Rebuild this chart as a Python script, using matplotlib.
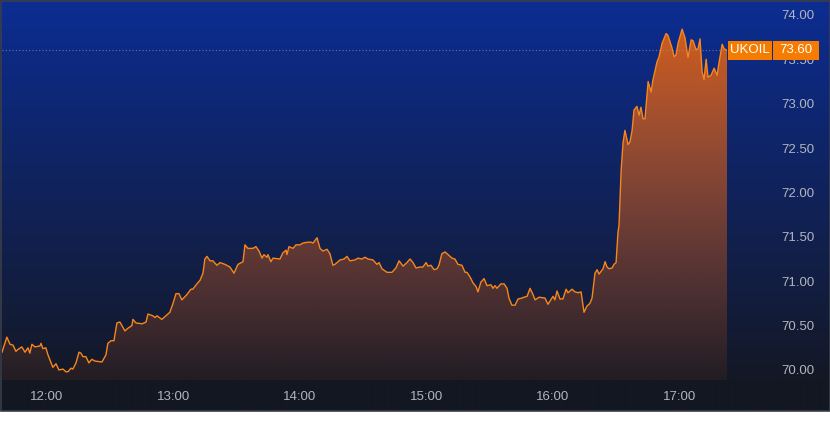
import numpy as np
import matplotlib
matplotlib.use("Agg")
import matplotlib.pyplot as plt
import matplotlib.transforms as mtransforms
from matplotlib.patches import Rectangle

plt.rcParams["font.family"] = ["Liberation Sans", "DejaVu Sans"]

SYMBOL = "UKOIL"

# minutes after 12:00 and price
times = [
    -21.3, -19.0, -17.5, -16.1, -14.7, -13.8, -11.9, -10.4, -9.0, -8.1,
    -7.1, -5.7, -3.3, -2.8, -1.9, -0.5, 0.5, 2.8, 4.3, 5.7,
    7.6, 9.0, 10.0, 11.4, 12.3, 13.8, 15.2, 16.1, 17.1, 18.5,
    19.9, 21.3, 22.8, 26.1, 28.0, 28.9, 30.4, 31.8, 33.2, 34.6,
    37.0, 38.4,
    40.3, 40.8, 42.2, 45.1, 47.0, 47.9, 50.3, 51.2, 52.2, 54.5,
    56.9, 58.3, 59.8, 61.2, 62.6, 64.0, 66.4, 68.3, 69.2, 71.1,
    72.6, 74.0, 74.9, 75.9, 77.3, 78.7, 80.6, 82.1, 84.4, 86.8,
    88.7, 90.6, 93.0, 93.9, 95.3,
    97.7, 99.1, 100.6, 102.0, 102.9, 104.3, 104.8, 106.2, 107.2, 110.5,
    111.9, 113.4, 113.8, 114.8, 116.7, 118.1, 120.0, 121.4, 123.8, 125.2,
    126.2, 128.1, 129.5, 130.9, 132.8, 134.2, 135.6, 136.6, 139.0, 140.9,
    142.3, 143.7, 146.1, 147.5, 149.4, 150.8, 152.3,
    154.6, 156.5, 157.5, 158.9, 161.3, 163.6, 165.5, 167.0, 168.9, 170.7,
    172.2, 173.6, 175.0, 176.9, 178.3, 179.8, 180.7, 182.1, 183.6, 185.0,
    185.9, 187.3, 188.8, 190.2, 192.1, 193.5, 194.9, 196.8, 198.3, 199.2,
    200.6, 202.1, 203.5, 204.4, 205.8, 207.3, 208.7,
    210.6, 211.5, 212.5, 213.4, 215.3, 216.8, 218.2, 219.1, 220.5, 222.0,
    223.4, 225.3, 226.2, 227.7, 229.1, 230.5, 231.5, 233.4, 236.2, 237.6,
    240.0, 240.9, 241.9, 243.3, 244.7, 246.2, 247.1, 249.0, 250.4, 251.9,
    253.3, 254.7, 256.1, 257.5, 258.5, 259.9, 260.9, 261.8, 263.7, 264.7,
    265.6, 266.6, 268.0, 268.9, 269.9,
    270.8, 271.3, 272.3, 273.2, 274.1, 275.6, 276.5, 277.5, 278.4, 279.8,
    280.8, 281.7, 282.7, 283.6, 285.1, 286.5, 287.4, 289.3, 290.3, 291.7,
    293.6, 294.5, 296.4, 297.4, 298.3, 299.3, 301.2, 302.6, 304.0, 305.5,
    306.4, 307.8, 308.8, 309.7, 310.7, 311.6, 312.6, 313.5, 314.9, 316.4,
    317.8, 318.7, 320.2, 321.1, 322.5,
]
prices = [
    70.20, 70.37, 70.29, 70.28, 70.21, 70.23, 70.26, 70.20, 70.25, 70.19,
    70.29, 70.26, 70.27, 70.30, 70.24, 70.25, 70.17, 70.03, 70.07, 70.00,
    70.01, 69.98, 69.98, 70.02, 70.01, 70.08, 70.20, 70.19, 70.15, 70.15,
    70.08, 70.12, 70.10, 70.09, 70.17, 70.30, 70.33, 70.33, 70.53, 70.54,
    70.44, 70.47,
    70.50, 70.57, 70.53, 70.52, 70.54, 70.63, 70.61, 70.59, 70.61, 70.57,
    70.62, 70.65, 70.75, 70.86, 70.86, 70.79, 70.85, 70.91, 70.91, 70.97,
    71.01, 71.09, 71.25, 71.28, 71.23, 71.23, 71.18, 71.21, 71.19, 71.16,
    71.09, 71.19, 71.22, 71.41, 71.37,
    71.37, 71.39, 71.34, 71.26, 71.30, 71.27, 71.30, 71.22, 71.26, 71.25,
    71.32, 71.35, 71.30, 71.39, 71.37, 71.41, 71.41, 71.43, 71.44, 71.44,
    71.43, 71.49, 71.37, 71.34, 71.36, 71.31, 71.18, 71.19, 71.24, 71.25,
    71.28, 71.23, 71.24, 71.26, 71.25, 71.27, 71.25,
    71.24, 71.19, 71.21, 71.14, 71.10, 71.10, 71.15, 71.23, 71.17, 71.21,
    71.25, 71.21, 71.15, 71.16, 71.16, 71.21, 71.17, 71.18, 71.13, 71.14,
    71.18, 71.31, 71.33, 71.30, 71.26, 71.25, 71.19, 71.18, 71.10, 71.10,
    71.05, 70.98, 70.94, 70.88, 70.99, 71.03, 70.95,
    70.96, 70.92, 70.95, 70.92, 70.97, 70.97, 70.92, 70.81, 70.73, 70.73,
    70.80, 70.81, 70.82, 70.83, 70.92, 70.85, 70.79, 70.82, 70.81, 70.74,
    70.83, 70.79, 70.89, 70.80, 70.80, 70.91, 70.87, 70.91, 70.88, 70.87,
    70.88, 70.65, 70.72, 70.75, 70.81, 71.09, 71.13, 71.08, 71.14, 71.22,
    71.16, 71.14, 71.15, 71.19, 71.21,
    71.55, 71.63, 72.25, 72.56, 72.70, 72.54, 72.57, 72.70, 72.93, 72.97,
    72.87, 72.96, 72.83, 72.83, 73.25, 73.13, 73.27, 73.47, 73.53, 73.68,
    73.79, 73.77, 73.63, 73.53, 73.55, 73.68, 73.84, 73.74, 73.52, 73.72,
    73.71, 73.61, 73.62, 73.73, 73.36, 73.27, 73.50, 73.30, 73.32, 73.40,
    73.32, 73.46, 73.67, 73.62, 73.60,
]
hour_ticks = [0, 60, 120, 180, 240, 300]
hour_labels = ["12:00", "13:00", "14:00", "15:00", "16:00", "17:00"]
price_ticks = [70.0, 70.5, 71.0, 71.5, 72.0, 72.5, 73.0, 73.5, 74.0]

t = np.array(times)
p = np.array(prices)
last = p[-1]

W, H = 830, 428
fig = plt.figure(figsize=(W / 100, H / 100), dpi=100)
fig.patch.set_facecolor("white")

# background gradient panel
bg = fig.add_axes([0, 17 / H, 1, 411 / H])
bg.set_axis_off()
top = np.array([12, 45, 146]) / 255
bot = np.array([20, 24, 37]) / 255
band = np.array([19, 23, 34]) / 255
rows = []
for r in range(411):
    if r < 380:
        f = r / 380
        rows.append(top * (1 - f) + bot * f)
    else:
        rows.append(band)
grad = np.array(rows)[:, None, :].repeat(2, axis=1)
bg.imshow(grad, aspect="auto", extent=[0, 1, 0, 1], interpolation="bilinear")
bg.set_xlim(0, 1)
bg.set_ylim(0, 1)

# main chart
ax = fig.add_axes([2 / W, (H - 380) / H, 725 / W, 378 / H])
ax.patch.set_alpha(0)
ymin, ymax = 69.887, 74.146
ax.set_xlim(t[0], t[-1])
ax.set_ylim(ymin, ymax)

# gradient area fill
n = 300
yy = np.linspace(ymax, ymin, n)
ypix = 370 - (yy - 70) * 88.75
alpha = np.clip(0.07 + 0.87 * (380 - ypix) / 380, 0, 1)
fill_rgba = np.zeros((n, 2, 4))
fill_rgba[:, :, 0] = 236 / 255
fill_rgba[:, :, 1] = 100 / 255
fill_rgba[:, :, 2] = 14 / 255
fill_rgba[:, :, 3] = alpha[:, None]
img = ax.imshow(fill_rgba, aspect="auto", extent=[t[0], t[-1], ymin, ymax],
                interpolation="bilinear", zorder=1)
poly = ax.fill_between(t, p, ymin, color="none", lw=0)
img.set_clip_path(poly.get_paths()[0], transform=ax.transData)
ax.set_xlim(t[0], t[-1])
ax.set_ylim(ymin, ymax)

ax.plot(t, p, color="#f7861c", lw=1.0, zorder=3)
ax.axhline(last, color="#8a93b0", lw=0.8, ls=(0, (1, 2)), alpha=0.7, zorder=2)

for s in ax.spines.values():
    s.set_visible(False)
ax.set_xticks(hour_ticks)
ax.set_xticklabels(hour_labels)
ax.set_yticks(price_ticks)
ax.set_yticklabels([f"{v:.2f}" for v in price_ticks])
ax.yaxis.tick_right()
ax.tick_params(axis="x", length=0, pad=8, labelsize=9.5, colors="#b2b5be")
ax.tick_params(axis="y", length=0, pad=39, labelsize=9.5, colors="#b2b5be")

# last price label
trans = mtransforms.blended_transform_factory(ax.transAxes, ax.transData)
bh = 19 / 88.75
ax.add_patch(Rectangle((1.0014, last - bh / 2), 0.0607, bh, transform=trans,
                       facecolor="#f57c00", edgecolor="none", clip_on=False, zorder=5))
ax.add_patch(Rectangle((1.0634, last - bh / 2), 0.0634, bh, transform=trans,
                       facecolor="#f57c00", edgecolor="none", clip_on=False, zorder=5))
ax.text(1.0317, last, SYMBOL, transform=trans, ha="center", va="center",
        color="white", fontsize=9.5, zorder=6, clip_on=False)
ax.text(1.0952, last, f"{last:.2f}", transform=trans, ha="center", va="center",
        color="white", fontsize=9.5, zorder=6, clip_on=False)

# panel border
fig.patches.append(Rectangle((0.5 / W, 17.5 / H), (W - 1) / W, 410 / H,
                             transform=fig.transFigure, fill=False,
                             edgecolor="#3a3e4a", lw=1.2, zorder=10))

fig.savefig("out.png", dpi=100, facecolor="white")
